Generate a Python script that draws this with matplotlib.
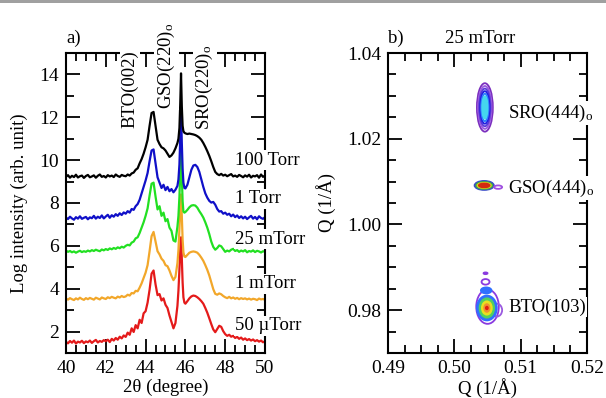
import matplotlib
matplotlib.use("Agg")
import matplotlib.pyplot as plt
import numpy as np
from matplotlib.patches import Ellipse, Rectangle
from matplotlib.ticker import MultipleLocator, FormatStrFormatter

# ---- panel a) XRD scans (log intensity, offset) ----
TWO_THETA = np.round(np.concatenate([
    np.arange(40.0, 45.61, 0.1),
    [45.65, 45.70, 45.74, 45.78, 45.82, 45.86, 45.90, 45.95],
    np.arange(46.0, 50.01, 0.1),
]), 2)

I_100TORR = [
    9.22, 9.30, 9.18, 9.27, 9.21, 9.32, 9.19, 9.25, 9.28, 9.17,
    9.26, 9.31, 9.20, 9.24, 9.29, 9.18, 9.27, 9.33, 9.22, 9.26,
    9.19, 9.30, 9.24, 9.28, 9.21, 9.33, 9.26, 9.22, 9.31, 9.27,
    9.25, 9.33, 9.28, 9.38, 9.42, 9.55, 9.62, 9.85, 10.05, 10.30,
    10.60, 10.95, 11.60, 12.20, 12.25, 11.60, 10.95, 10.75, 10.60, 10.55,
    10.45, 10.30, 10.15, 10.22, 10.35, 10.55, 10.80,
    11.0, 11.5, 12.6, 14.05, 12.5, 11.6, 11.35, 11.28,
    11.25, 11.22, 11.24, 11.22, 11.20, 11.17, 11.12, 11.05, 10.95, 10.80,
    10.62, 10.42, 10.20, 9.95, 9.68, 9.45, 9.35, 9.30, 9.36, 9.28,
    9.32, 9.25, 9.30, 9.35, 9.24, 9.28, 9.22, 9.31, 9.26, 9.20,
    9.29, 9.23, 9.32, 9.19, 9.27, 9.24, 9.30, 9.18, 9.33, 9.22, 9.28,
]
I_1TORR = [
    7.32, 7.25, 7.36, 7.28, 7.22, 7.34, 7.27, 7.38, 7.26, 7.31,
    7.35, 7.24, 7.33, 7.29, 7.40, 7.27, 7.36, 7.30, 7.42, 7.28,
    7.37, 7.45, 7.31, 7.43, 7.36, 7.48, 7.40, 7.52, 7.44, 7.56,
    7.50, 7.62, 7.55, 7.72, 7.68, 7.85, 7.95, 8.15, 8.45, 8.75,
    9.05, 9.40, 9.95, 10.45, 10.50, 9.85, 9.20, 8.95, 8.70, 8.85,
    8.60, 8.75, 8.55, 8.65, 8.50, 8.62, 8.80,
    9.1, 9.8, 11.0, 12.3, 10.8, 9.6, 8.95, 8.70,
    8.68, 8.85, 9.20, 9.55, 9.75, 9.78, 9.68, 9.45, 9.10, 8.75,
    8.45, 8.25, 8.10, 8.02, 8.05, 7.92, 7.72, 7.60, 7.62, 7.50,
    7.55, 7.45, 7.50, 7.38, 7.46, 7.34, 7.42, 7.30, 7.38, 7.28,
    7.36, 7.25, 7.33, 7.40, 7.27, 7.35, 7.24, 7.38, 7.30, 7.26, 7.34,
]
I_25MTORR = [
    5.78, 5.72, 5.76, 5.70, 5.74, 5.68, 5.73, 5.77, 5.71, 5.75,
    5.72, 5.78, 5.74, 5.80, 5.76, 5.82, 5.78, 5.75, 5.83, 5.79,
    5.85, 5.81, 5.88, 5.84, 5.90, 5.86, 5.93, 5.89, 5.96, 5.92,
    6.00, 6.05, 6.02, 6.15, 6.20, 6.35, 6.40, 6.60, 6.85, 7.10,
    7.40, 7.75, 8.35, 8.90, 8.95, 8.30, 7.70, 7.85, 7.40, 7.55,
    7.15, 7.25, 6.85, 6.70, 6.25, 6.20, 6.90,
    7.4, 8.3, 9.4, 10.4, 9.2, 8.1, 7.6, 7.55,
    7.58, 7.68, 7.80, 7.88, 7.90, 7.88, 7.78, 7.62, 7.48, 7.32,
    7.10, 6.85, 6.55, 6.20, 5.95, 5.82, 5.90, 6.02, 5.98, 5.85,
    5.72, 5.78, 5.74, 5.82, 5.86, 5.76, 5.80, 5.72, 5.78, 5.74,
    5.80, 5.70, 5.76, 5.73, 5.79, 5.71, 5.77, 5.74, 5.69, 5.75, 5.72,
]
I_1MTORR = [
    3.54, 3.49, 3.56, 3.51, 3.47, 3.55, 3.50, 3.58, 3.52, 3.48,
    3.56, 3.51, 3.57, 3.53, 3.49, 3.58, 3.54, 3.50, 3.59, 3.55,
    3.52, 3.60, 3.56, 3.62, 3.58, 3.55, 3.63, 3.59, 3.66, 3.61,
    3.64, 3.72, 3.68, 3.80, 3.78, 3.90, 3.88, 4.05, 4.25, 4.50,
    4.75, 5.10, 5.75, 6.45, 6.65, 6.20, 5.75, 5.60, 5.40, 5.30,
    5.10, 5.05, 4.85, 4.60, 4.40, 4.55, 5.20,
    5.8, 6.8, 7.7, 8.4, 7.4, 6.3, 5.7, 5.50,
    5.48, 5.58, 5.68, 5.72, 5.74, 5.72, 5.68, 5.58, 5.45, 5.30,
    5.10, 4.88, 4.62, 4.30, 3.98, 3.76, 3.72, 3.78, 3.74, 3.66,
    3.60, 3.56, 3.62, 3.55, 3.59, 3.53, 3.57, 3.51, 3.56, 3.52,
    3.55, 3.50, 3.54, 3.49, 3.53, 3.51, 3.47, 3.54, 3.50, 3.52, 3.48,
]
I_50UTORR = [
    1.52, 1.45, 1.56, 1.48, 1.58, 1.44, 1.53, 1.49, 1.57, 1.46,
    1.54, 1.50, 1.58, 1.47, 1.55, 1.61, 1.49, 1.56, 1.52, 1.60,
    1.55, 1.62, 1.51, 1.66, 1.58, 1.70, 1.62, 1.76, 1.68, 1.82,
    1.75, 1.95, 1.85, 2.15, 1.98, 2.30, 2.15, 2.55, 2.40, 2.85,
    2.95, 3.35, 3.95, 4.70, 4.85, 4.20, 3.70, 3.75, 3.45, 3.55,
    3.25, 3.10, 2.75, 2.45, 2.15, 2.40, 3.20,
    3.9, 4.9, 5.8, 6.4, 5.4, 4.3, 3.6, 3.35,
    3.30, 3.42, 3.55, 3.64, 3.68, 3.66, 3.60, 3.52, 3.42, 3.30,
    3.10, 2.88, 2.62, 2.35, 2.10, 1.97, 2.12, 2.27, 2.22, 2.02,
    1.88, 1.80, 1.85, 1.76, 1.80, 1.70, 1.75, 1.66, 1.72, 1.62,
    1.68, 1.60, 1.65, 1.58, 1.63, 1.55, 1.60, 1.53, 1.58, 1.50, 1.55,
]

SCANS = [I_50UTORR, I_1MTORR, I_25MTORR, I_1TORR, I_100TORR]
SCAN_COLORS = ["#e41a1a", "#f2a72a", "#22e022", "#1010c8", "#000000"]
SCAN_LABELS = ["50 \u00b5Torr", "1 mTorr", "25 mTorr", "1 Torr", "100 Torr"]
SCAN_LABEL_Y = [2.28, 4.24, 6.3, 8.2, 10.0]

PEAK_NAMES = ["BTO(002)", "GSO(220)$_\\mathrm{o}$", "SRO(220)$_\\mathrm{o}$"]
PEAK_NAME_X = [43.2, 45.05, 46.98]
PEAK_NAME_Y = [11.5, 12.4, 11.4]

# ---- panel b) reciprocal space map, 25 mTorr (contour rings) ----
RING_QX = [0.5046, 0.5046, 0.5046, 0.5046, 0.5046, 0.5046,
           0.5045, 0.5066, 0.5045, 0.5045, 0.5045,
           0.5050, 0.5064, 0.5047, 0.5047, 0.5048,
           0.5049, 0.5049, 0.5049, 0.5049, 0.5049]
RING_QZ = [1.0273, 1.0273, 1.0273, 1.0273, 1.0273, 1.0273,
           1.0091, 1.0087, 1.0091, 1.0091, 1.0091,
           0.9808, 0.9800, 0.9886, 0.9866, 0.9846,
           0.9805, 0.9805, 0.9805, 0.9805, 0.9805]
RING_W = [0.0024, 0.0020, 0.0017, 0.0014, 0.0011, 0.0008,
          0.0029, 0.0012, 0.0024, 0.0020, 0.0016,
          0.0034, 0.0016, 0.0006, 0.0012, 0.0016,
          0.0030, 0.0022, 0.0015, 0.0008, 0.0003]
RING_H = [0.0113, 0.0100, 0.0088, 0.0076, 0.0064, 0.0052,
          0.0021, 0.0008, 0.0016, 0.0012, 0.0009,
          0.0080, 0.0030, 0.0004, 0.0013, 0.0014,
          0.0058, 0.0045, 0.0031, 0.0018, 0.0006]
RING_COLORS = ["#7b2fbe", "#9a5ae0", "#5a3ad8", "#1f1fe0", "#2f7fff", "#45d6ee",
               "#3a4cc8", "#a050e0", "#40b040", "#e0d020", "#d42a10",
               "#8a3ae0", "#9a5ae0", "#8a3ae0", "#8a3ae0", "#2f6fff",
               "#2f6fff", "#50d060", "#e8e020", "#f09030", "#e02010"]
RING_FILLED = [False, False, False, False, False, True,
               True, False, True, True, True,
               False, False, True, False, True,
               True, True, True, True, True]

REFL_NAMES = ["SRO(444)$_\\mathrm{o}$", "GSO(444)$_\\mathrm{o}$", "BTO(103)"]
REFL_NAME_QZ = [1.0259, 1.0085, 0.9807]
REFL_NAME_QX = 0.5081


def setup_style():
    plt.rcParams.update({
        "font.family": ["Liberation Serif", "DejaVu Serif"],
        "mathtext.fontset": "custom",
        "mathtext.rm": "Liberation Serif",
        "mathtext.it": "Liberation Serif:italic",
        "font.size": 13.5,
        "axes.linewidth": 1.5,
        "xtick.direction": "in",
        "ytick.direction": "in",
        "xtick.top": True,
        "ytick.right": True,
        "xtick.major.size": 10,
        "ytick.major.size": 10,
        "xtick.minor.size": 5.5,
        "ytick.minor.size": 5.5,
        "xtick.major.width": 1.3,
        "ytick.major.width": 1.3,
        "xtick.minor.width": 1.3,
        "ytick.minor.width": 1.3,
        "xtick.labelsize": 14,
        "ytick.labelsize": 14,
        "xtick.major.pad": 5,
        "ytick.major.pad": 5,
    })


BOX = dict(boxstyle="square,pad=0.08", fc="white", ec="none")


def main():
    setup_style()
    fig = plt.figure(figsize=(6.06, 3.98), dpi=100)
    ax_a = fig.add_axes([0.1089, 0.1131, 0.3284, 0.7537])
    ax_b = fig.add_axes([0.6403, 0.1131, 0.3284, 0.7537])

    # panel a
    for k, (vals, col) in enumerate(zip(SCANS, SCAN_COLORS)):
        ax_a.plot(TWO_THETA, vals, color=col, lw=1.6, zorder=2 + 0.1 * k)
    for lab, ly in zip(SCAN_LABELS, SCAN_LABEL_Y):
        ax_a.text(48.5, ly, lab, ha="left", va="center", fontsize=13.5,
                  bbox=BOX, clip_on=False, zorder=5)
    for name, px, py in zip(PEAK_NAMES, PEAK_NAME_X, PEAK_NAME_Y):
        ax_a.text(px, py, name, rotation=90, ha="center", va="bottom",
                  fontsize=13.5, bbox=BOX, clip_on=False, zorder=5)

    ax_a.set_xlim(40, 50)
    ax_a.set_ylim(1, 15)
    ax_a.xaxis.set_major_locator(MultipleLocator(2))
    ax_a.xaxis.set_minor_locator(MultipleLocator(0.5))
    ax_a.yaxis.set_major_locator(MultipleLocator(2))
    ax_a.yaxis.set_minor_locator(MultipleLocator(1))
    ax_a.tick_params(which="both", top=True, right=True)
    ax_a.set_yticks([2, 4, 6, 8, 10, 12, 14])
    ax_a.set_xlabel("2\u03b8 (degree)", fontsize=13.5, labelpad=1)
    ax_a.set_ylabel("Log intensity (arb. unit)", fontsize=13.5, labelpad=8)
    ax_a.text(0.0, 1.02, "a)", transform=ax_a.transAxes, ha="left", va="bottom",
              fontsize=13.5)

    # panel b
    for cx, cz, w, h, col, filled in zip(RING_QX, RING_QZ, RING_W, RING_H,
                                         RING_COLORS, RING_FILLED):
        ax_b.add_patch(Ellipse((cx, cz), w, h,
                               facecolor=col if filled else "none",
                               edgecolor=col, lw=1.3, zorder=3))
    for name, qz in zip(REFL_NAMES, REFL_NAME_QZ):
        ax_b.text(REFL_NAME_QX, qz, name, ha="left", va="center", fontsize=13.5,
                  bbox=BOX, clip_on=False, zorder=5)

    ax_b.set_xlim(0.49, 0.52)
    ax_b.set_ylim(0.97, 1.04)
    ax_b.xaxis.set_major_locator(MultipleLocator(0.01))
    ax_b.xaxis.set_minor_locator(MultipleLocator(0.0025))
    ax_b.yaxis.set_major_locator(MultipleLocator(0.02))
    ax_b.yaxis.set_minor_locator(MultipleLocator(0.005))
    ax_b.xaxis.set_major_formatter(FormatStrFormatter("%.2f"))
    ax_b.yaxis.set_major_formatter(FormatStrFormatter("%.2f"))
    ax_b.tick_params(which="both", top=True, right=True)
    ax_b.set_xlabel("Q (1/\u00c5)", fontsize=13.5, labelpad=1)
    ax_b.set_ylabel("Q (1/\u00c5)", fontsize=13.5, labelpad=8)
    ax_b.text(0.0, 1.02, "b)", transform=ax_b.transAxes, ha="left", va="bottom",
              fontsize=13.5)
    ax_b.text(0.286, 1.02, "25 mTorr", transform=ax_b.transAxes, ha="left",
              va="bottom", fontsize=13.5)

    fig.add_artist(Rectangle((0, 1 - 3 / 398), 1, 3 / 398, transform=fig.transFigure,
                             color="#a0a0a0", lw=0))
    fig.savefig("out.png", dpi=100)


if __name__ == "__main__":
    main()
